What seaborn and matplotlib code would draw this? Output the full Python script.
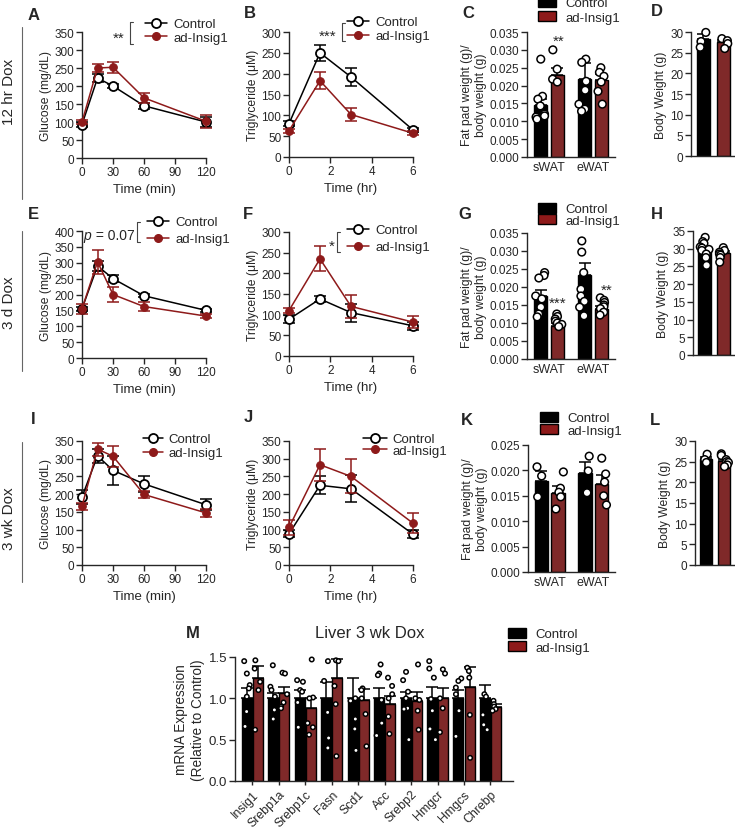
import warnings
import numpy as np
import pandas as pd
import matplotlib
matplotlib.use('Agg')
import matplotlib.pyplot as plt
import seaborn as sns
from matplotlib.lines import Line2D
from matplotlib.patches import Patch
from matplotlib.ticker import FormatStrFormatter, MultipleLocator

warnings.filterwarnings('ignore')
np.random.seed(3)  # only for the strip-plot jitter
sns.set_style('ticks')
plt.rcParams['font.family'] = ['Liberation Sans', 'DejaVu Sans']
plt.rcParams['axes.linewidth'] = 1.0

RED = '#8E1A1A'
GROUPS = ['Control', 'ad-Insig1']
PAL = {'Control': 'black', 'ad-Insig1': RED}

# ---- tolerance tests (time courses)
gtt_t = [0, 15, 30, 60, 120]
ttt_t = [0, 1.5, 3, 6]

# 12 hr Dox
a_ctrl = [93, 222, 200, 145, 100]
a_ctrl_err = [6, 10, 6, 8, 15]
a_ins = [100, 250, 252, 167, 102]
a_ins_err = [6, 12, 15, 13, 18]
b_ctrl = [80, 250, 192, 65]
b_ctrl_err = [6, 20, 22, 5]
b_ins = [63, 183, 102, 57]
b_ins_err = [5, 20, 15, 5]

# 3 d Dox
e_ctrl = [155, 290, 250, 196, 150]
e_ctrl_err = [6, 15, 10, 5, 5]
e_ins = [155, 303, 200, 162, 132]
e_ins_err = [15, 38, 25, 15, 6]
f_ctrl = [89, 138, 105, 73]
f_ctrl_err = [10, 8, 22, 10]
f_ins = [110, 235, 120, 82]
f_ins_err = [5, 30, 28, 15]

# 3 wk Dox
i_ctrl = [192, 308, 267, 229, 170]
i_ctrl_err = [20, 20, 40, 22, 15]
i_ins = [166, 327, 307, 199, 147]
i_ins_err = [10, 18, 30, 10, 12]
j_ctrl = [88, 225, 215, 87]
j_ctrl_err = [10, 25, 38, 12]
j_ins = [106, 283, 250, 118]
j_ins_err = [22, 45, 48, 28]

# ---- fat pad / body weight
fat_sites = ['sWAT', 'eWAT']
c_ctrl_mean = [0.0145, 0.0218]
c_ctrl_err = [0.0018, 0.0045]
c_ins_mean = [0.0230, 0.0215]
c_ins_err = [0.0018, 0.0017]
c_ctrl_pts = [[0.0274, 0.0170, 0.0162, 0.0143, 0.0120, 0.0115, 0.0112, 0.0106],
              [0.0274, 0.0265, 0.0212, 0.0187, 0.0148, 0.0134, 0.0128]]
c_ins_pts = [[0.0300, 0.0246, 0.0218, 0.0210],
             [0.0250, 0.0237, 0.0226, 0.0210, 0.0184, 0.0148]]
d_mean = [28.4, 27.5]
d_err = [1.0, 0.6]
d_ctrl_pts = [29.9, 27.7, 26.3]
d_ins_pts = [28.4, 27.9, 27.2, 26.0]

g_ctrl_mean = [0.0175, 0.0233]
g_ctrl_err = [0.0017, 0.0033]
g_ins_mean = [0.0093, 0.0138]
g_ins_err = [0.0006, 0.0008]
g_ctrl_pts = [[0.0240, 0.0232, 0.0225, 0.0175, 0.0167, 0.0144, 0.0125, 0.0117],
              [0.0328, 0.0297, 0.0240, 0.0194, 0.0175, 0.0160, 0.0144, 0.0120]]
g_ins_pts = [[0.0125, 0.0118, 0.0111, 0.0105, 0.0100, 0.0096, 0.0090],
             [0.0170, 0.0163, 0.0157, 0.0150, 0.0145, 0.0140, 0.0130, 0.0122]]
h_mean = [29.6, 28.8]
h_err = [0.8, 0.5]
h_ctrl_pts = [33.2, 32.0, 31.5, 30.5, 30.2, 29.8, 29.5, 28.5, 27.5, 25.3]
h_ins_pts = [30.3, 29.5, 29.0, 28.5, 28.2, 27.5, 26.2]

k_ctrl_mean = [0.0180, 0.0195]
k_ctrl_err = [0.0018, 0.0022]
k_ins_mean = [0.0156, 0.0174]
k_ins_err = [0.0013, 0.0016]
k_ctrl_pts = [[0.0207, 0.0189, 0.0148], [0.0228, 0.0199, 0.0156]]
k_ins_pts = [[0.0197, 0.0165, 0.0157, 0.0148, 0.0124],
             [0.0224, 0.0193, 0.0177, 0.0150, 0.0132]]
l_mean = [25.6, 25.2]
l_err = [0.6, 0.5]
l_ctrl_pts = [26.8, 25.5, 24.8]
l_ins_pts = [26.9, 26.5, 25.5, 25.0, 24.8, 24.2, 23.8]

# ---- liver mRNA
genes = ['Insig1', 'Srebp1a', 'Srebp1c', 'Fasn', 'Scd1', 'Acc', 'Srebp2', 'Hmgcr', 'Hmgcs', 'Chrebp']
m_ctrl_mean = [1.0] * 10
m_ctrl_err = [0.12, 0.06, 0.10, 0.20, 0.24, 0.13, 0.08, 0.14, 0.10, 0.16]
m_ins_mean = [1.24, 1.06, 0.88, 1.24, 0.98, 0.93, 0.97, 1.01, 1.14, 0.89]
m_ins_err = [0.15, 0.08, 0.12, 0.24, 0.13, 0.10, 0.11, 0.12, 0.24, 0.04]
m_ctrl_pts = [[1.45, 1.30, 1.16, 1.12, 1.02, 0.84, 0.66],
              [1.40, 1.14, 1.10, 1.02, 0.86, 0.75],
              [1.22, 1.20, 1.10, 1.08, 0.95, 0.65],
              [1.45, 1.21, 0.83, 0.52, 0.40],
              [1.00, 0.97, 0.75, 0.63, 0.37],
              [1.41, 1.30, 1.28, 0.98, 0.70, 0.55],
              [1.32, 1.22, 1.08, 1.00, 0.88, 0.87, 0.50],
              [1.45, 1.36, 1.25, 0.99, 0.85, 0.63, 0.50],
              [1.24, 1.21, 1.13, 1.05, 0.85, 0.54],
              [1.05, 1.02, 0.80, 0.68, 0.62]]
m_ins_pts = [[1.46, 1.36, 1.20, 1.10, 0.62],
             [1.31, 1.30, 1.05, 0.95, 0.90, 0.88],
             [1.47, 1.01, 1.00, 0.70, 0.65, 0.56],
             [1.46, 1.45, 1.15, 0.93, 0.30],
             [1.12, 1.10, 1.00, 0.81, 0.42],
             [1.25, 1.15, 1.05, 1.00, 0.78, 0.57],
             [1.41, 1.00, 0.98, 0.85, 0.62],
             [1.35, 1.30, 1.00, 0.88, 0.59],
             [1.37, 1.33, 1.25, 0.80, 0.28],
             [0.97, 0.93, 0.90, 0.87, 0.85]]

W, H = 735, 829
fig = plt.figure(figsize=(W / 100, H / 100), dpi=100)


def px_axes(l, t, r, b):
    return fig.add_axes([l / W, 1 - b / H, (r - l) / W, (b - t) / H])


def ftext(x, y, s, **kw):
    kw.setdefault('ha', 'center')
    kw.setdefault('va', 'center')
    fig.text(x / W, 1 - y / H, s, **kw)


def bracket(x, y0, y1):
    fig.add_artist(Line2D([(x + 3) / W, x / W, x / W, (x + 3) / W],
                          [1 - y0 / H, 1 - y0 / H, 1 - y1 / H, 1 - y1 / H],
                          color='#444444', lw=0.8))


def style(ax, fs=8.5):
    sns.despine(ax=ax)
    ax.tick_params(direction='out', length=4, width=1, labelsize=fs, pad=1.5)


def line_legend(ax, x, y, ls, hl=1.7):
    hs = [Line2D([], [], color='black', lw=1.1, marker='o', ms=6.5, mfc='white', mec='black', mew=1.3),
          Line2D([], [], color=RED, lw=1.1, marker='o', ms=5.5, mfc=RED, mec=RED)]
    ax.legend(hs, GROUPS, loc='upper left', bbox_to_anchor=(x / W, 1 - y / H),
              bbox_transform=fig.transFigure, frameon=False, borderpad=0, borderaxespad=0,
              handlelength=hl, handletextpad=0.45, labelspacing=ls, fontsize=9.5)


def bar_legend(ax, x, y, ls):
    hs = [Patch(facecolor='black', edgecolor='black'), Patch(facecolor=RED, edgecolor='black')]
    ax.legend(hs, GROUPS, loc='upper left', bbox_to_anchor=(x / W, 1 - y / H),
              bbox_transform=fig.transFigure, frameon=False, borderpad=0, borderaxespad=0,
              handlelength=1.4, handleheight=0.75, handletextpad=0.7, labelspacing=ls, fontsize=9.5)


def line_panel(box, t, ctrl, ctrl_err, ins, ins_err, xticks, ymax, ylabel, xlabel):
    ax = px_axes(*box)
    ax.errorbar(t, ctrl, yerr=ctrl_err, fmt='none', ecolor='black', elinewidth=1.1,
                capsize=4.5, capthick=1.1, clip_on=False, zorder=2)
    sns.lineplot(x=t, y=ctrl, color='black', lw=1.1, marker='o', ms=6.5, mfc='white',
                 mec='black', mew=1.3, clip_on=False, zorder=3, ax=ax)
    ax.errorbar(t, ins, yerr=ins_err, fmt='none', ecolor=RED, elinewidth=1.1,
                capsize=4.5, capthick=1.1, clip_on=False, zorder=4)
    sns.lineplot(x=t, y=ins, color=RED, lw=1.1, marker='o', ms=5.5, mfc=RED,
                 mec=RED, clip_on=False, zorder=5, ax=ax)
    ax.set_xlim(xticks[0], xticks[-1])
    ax.set_xticks(xticks)
    ax.set_ylim(0, ymax)
    ax.yaxis.set_major_locator(MultipleLocator(50))
    ax.set_ylabel(ylabel, fontsize=8.7, labelpad=2)
    ax.set_xlabel(xlabel, fontsize=9.5, labelpad=4)
    style(ax)
    return ax


def bar_panel(box, cats, ctrl_mean, ctrl_err, ins_mean, ins_err, ctrl_pts, ins_pts,
              width, gap, pt_size, xlim, ymax, ystep, jitter=0.25):
    ax = px_axes(*box)
    n = len(cats)
    means = pd.DataFrame({'cat': cats * 2, 'grp': ['Control'] * n + ['ad-Insig1'] * n,
                          'val': list(ctrl_mean) + list(ins_mean)})
    rows = []
    for c, p in zip(cats, ctrl_pts):
        rows += [(c, 'Control', v) for v in p]
    for c, p in zip(cats, ins_pts):
        rows += [(c, 'ad-Insig1', v) for v in p]
    pts = pd.DataFrame(rows, columns=['cat', 'grp', 'val'])
    sns.barplot(data=means, x='cat', y='val', hue='grp', order=cats, hue_order=GROUPS,
                palette=PAL, width=width, gap=gap, errorbar=None, edgecolor='black',
                linewidth=1, legend=False, ax=ax)
    off = width / 4
    for i in range(n):
        ax.errorbar(i - off, ctrl_mean[i], yerr=[[0], [ctrl_err[i]]], fmt='none', ecolor='black',
                    elinewidth=1.1, capsize=4, capthick=1.1, zorder=3)
        ax.errorbar(i + off, ins_mean[i], yerr=[[0], [ins_err[i]]], fmt='none', ecolor='black',
                    elinewidth=1.1, capsize=4, capthick=1.1, zorder=3)
    sns.stripplot(data=pts, x='cat', y='val', hue='grp', order=cats, hue_order=GROUPS, dodge=True,
                  jitter=jitter, palette={'Control': 'white', 'ad-Insig1': 'white'}, size=pt_size,
                  edgecolor='black', linewidth=1.1, legend=False, ax=ax, zorder=4, clip_on=False)
    ax.set_xlim(*xlim)
    ax.set_ylim(0, ymax)
    ax.yaxis.set_major_locator(MultipleLocator(ystep))
    ax.set_xlabel('')
    style(ax)
    ax.tick_params(axis='x', length=0, labelsize=9, pad=3)
    return ax


fat_label = 'Fat pad weight (g)/\nbody weight (g)'

# ---------------- row 1 : 12 hr Dox
axA = line_panel((82, 33, 206, 159), gtt_t, a_ctrl, a_ctrl_err, a_ins, a_ins_err,
                 [0, 30, 60, 90, 120], 350, 'Glucose (mg/dL)', 'Time (min)')
line_legend(axA, 145, 19, 0.08)
axB = line_panel((289, 33, 413, 158), ttt_t, b_ctrl, b_ctrl_err, b_ins, b_ins_err,
                 [0, 2, 4, 6], 300, 'Triglyceride (\u03bcM)', 'Time (hr)')
line_legend(axB, 347, 17, 0.14)
axC = bar_panel((527, 33, 615, 158), fat_sites, c_ctrl_mean, c_ctrl_err, c_ins_mean, c_ins_err,
                c_ctrl_pts, c_ins_pts, 0.76, 0.21, 5.5, (-0.5, 1.5), 0.035, 0.005)
axC.yaxis.set_major_formatter(FormatStrFormatter('%.3f'))
axC.set_ylabel(fat_label, fontsize=8.7, labelpad=2)
bar_legend(axC, 538, -2, 0.14)
axD = bar_panel((691, 33, 735, 157), ['x'], [d_mean[0]], [d_err[0]], [d_mean[1]], [d_err[1]],
                [d_ctrl_pts], [d_ins_pts], 0.8, 0.35, 5.5, (-0.44, 0.44), 30, 5, jitter=0.2)
axD.set_xticks([])
axD.set_ylabel('Body Weight (g)', fontsize=8.7, labelpad=2)

# ---------------- row 2 : 3 d Dox
axE = line_panel((82, 232, 206, 359), gtt_t, e_ctrl, e_ctrl_err, e_ins, e_ins_err,
                 [0, 30, 60, 90, 120], 400, 'Glucose (mg/dL)', 'Time (min)')
line_legend(axE, 147, 217, 0.36)
axF = line_panel((289, 233, 413, 357), ttt_t, f_ctrl, f_ctrl_err, f_ins, f_ins_err,
                 [0, 2, 4, 6], 300, 'Triglyceride (\u03bcM)', 'Time (hr)')
line_legend(axF, 347, 225, 0.36)
axG = bar_panel((527, 234, 615, 360), fat_sites, g_ctrl_mean, g_ctrl_err, g_ins_mean, g_ins_err,
                g_ctrl_pts, g_ins_pts, 0.76, 0.21, 5.5, (-0.5, 1.5), 0.035, 0.005)
axG.yaxis.set_major_formatter(FormatStrFormatter('%.3f'))
axG.set_ylabel(fat_label, fontsize=8.7, labelpad=2)
bar_legend(axG, 538, 204, -0.09)
axH = bar_panel((693, 232, 735, 356), ['x'], [h_mean[0]], [h_err[0]], [h_mean[1]], [h_err[1]],
                [h_ctrl_pts], [h_ins_pts], 0.8, 0.35, 5.5, (-0.44, 0.44), 35, 5, jitter=0.2)
axH.set_xticks([])
axH.set_ylabel('Body Weight (g)', fontsize=8.7, labelpad=2)

# ---------------- row 3 : 3 wk Dox
axI = line_panel((82, 442, 206, 566), gtt_t, i_ctrl, i_ctrl_err, i_ins, i_ins_err,
                 [0, 30, 60, 90, 120], 350, 'Glucose (mg/dL)', 'Time (min)')
line_legend(axI, 143, 434, 0.14, hl=1.5)
axJ = line_panel((289, 442, 413, 566), ttt_t, j_ctrl, j_ctrl_err, j_ins, j_ins_err,
                 [0, 2, 4, 6], 350, 'Triglyceride (\u03bcM)', 'Time (hr)')
line_legend(axJ, 363, 434, -0.05, hl=1.8)
axK = bar_panel((528, 446, 615, 573), fat_sites, k_ctrl_mean, k_ctrl_err, k_ins_mean, k_ins_err,
                k_ctrl_pts, k_ins_pts, 0.76, 0.21, 5.5, (-0.5, 1.5), 0.025, 0.005)
axK.yaxis.set_major_formatter(FormatStrFormatter('%.3f'))
axK.set_ylabel(fat_label, fontsize=8.7, labelpad=2)
bar_legend(axK, 540, 413, -0.02)
axL = bar_panel((695, 442, 735, 566), ['x'], [l_mean[0]], [l_err[0]], [l_mean[1]], [l_err[1]],
                [l_ctrl_pts], [l_ins_pts], 0.8, 0.35, 5.5, (-0.44, 0.44), 30, 5, jitter=0.2)
axL.set_xticks([])
axL.set_ylabel('Body Weight (g)', fontsize=8.7, labelpad=2)

# ---------------- row 4 : liver mRNA
axM = bar_panel((235, 658, 513, 782), genes, m_ctrl_mean, m_ctrl_err, m_ins_mean, m_ins_err,
                m_ctrl_pts, m_ins_pts, 0.84, 0.1, 3.2, (-0.65, 9.85), 1.5, 0.5, jitter=0.25)
axM.yaxis.set_major_formatter(FormatStrFormatter('%.1f'))
axM.set_ylabel('mRNA Expression\n(Relative to Control)', fontsize=9.8, labelpad=3)
axM.set_xticks(range(len(genes)))
axM.set_xticklabels(genes, rotation=45, ha='right', rotation_mode='anchor')
axM.tick_params(axis='x', length=3, labelsize=8.8, pad=2)
axM.tick_params(axis='y', labelsize=9.5)
bar_legend(axM, 508, 629, 0.06)
ftext(370, 633, 'Liver 3 wk Dox', fontsize=12)

# ---------------- significance marks
ftext(119, 39, '**', fontsize=11)
bracket(130, 23, 45)
ftext(328, 37, '***', fontsize=11)
bracket(342, 24, 42)
ftext(559, 42, '**', fontsize=11)
ftext(91, 236, 'p', fontsize=10, fontstyle='italic', ha='right')
ftext(92, 236, ' = 0.07', fontsize=10, ha='left')
bracket(137, 223, 243)
ftext(332, 247, '*', fontsize=11)
bracket(337, 233, 253)
ftext(558, 304, '***', fontsize=11)
ftext(607, 291, '**', fontsize=11)

# ---------------- panel letters
for lt, x, y in [('A', 34, 15), ('B', 250, 13), ('C', 468, 13), ('D', 657, 12),
                 ('E', 33, 215), ('F', 248, 215), ('G', 465, 215), ('H', 657, 215),
                 ('I', 33, 420), ('J', 248, 418), ('K', 467, 421), ('L', 655, 421),
                 ('M', 193, 633)]:
    ftext(x, y, lt, fontsize=12, fontweight='bold')

# ---------------- row labels
for lab, yc, y0, y1 in [('12 hr Dox', 92, 28, 200), ('3 d Dox', 303, 232, 372),
                        ('3 wk Dox', 519, 443, 583)]:
    ftext(9, yc, lab, fontsize=11, rotation=90)
    fig.add_artist(Line2D([22 / W, 22 / W], [1 - y0 / H, 1 - y1 / H], color='#666666', lw=0.8))

fig.savefig('out.png', dpi=100)
